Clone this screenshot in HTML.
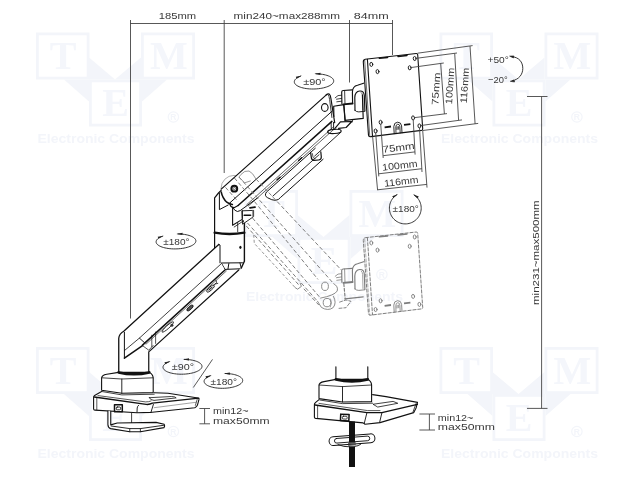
<!DOCTYPE html><html><head><meta charset="utf-8"><style>html,body{margin:0;padding:0;background:#fff}svg{display:block;will-change:transform}text{font-family:"Liberation Sans",sans-serif}text.sf{font-family:"Liberation Serif",serif}</style></head><body>
<svg width="640" height="480" viewBox="0 0 640 480">
<rect width="640" height="480" fill="#fff"/>
<g transform="translate(36,32.5)" fill="#f3f5fa" stroke="none">
<path d="M53 25 L79 47 L105 25 L105 47 L131 47 L106 69 L106 47 L53 47 L53 69 L28 47 L53 47 Z"/>
<rect x="0" y="0" width="53.5" height="47" fill="#f3f5fa"/>
<rect x="2.8" y="2.8" width="47.9" height="41.4" fill="#fff"/>
<rect x="105" y="0" width="54" height="47" fill="#f3f5fa"/>
<rect x="107.8" y="2.8" width="48.4" height="41.4" fill="#fff"/>
<rect x="53" y="47" width="53" height="47" fill="#f3f5fa"/>
<rect x="55.8" y="49.8" width="47.4" height="41.4" fill="#fff"/>
<text x="27" y="36.6" class="sf" font-size="40" font-weight="bold" text-anchor="middle" fill="#f4f6fb">T</text>
<text x="133" y="36.6" class="sf" font-size="40" font-weight="bold" text-anchor="middle" fill="#f4f6fb">M</text>
<text x="79.5" y="83.8" class="sf" font-size="40" font-weight="bold" text-anchor="middle" fill="#f4f6fb">E</text>
<circle cx="137.4" cy="84.5" r="5.2" fill="none" stroke="#f3f5fa" stroke-width="1.2"/>
<text x="137.4" y="87.6" font-size="8.5" font-weight="bold" text-anchor="middle" fill="#f3f5fa">R</text>
<text x="1.5" y="110.6" font-size="12" font-weight="bold" textLength="157" lengthAdjust="spacingAndGlyphs" fill="#f3f5fa">Electronic Components</text>
</g>
<g transform="translate(439.5,32.5)" fill="#f3f5fa" stroke="none">
<path d="M53 25 L79 47 L105 25 L105 47 L131 47 L106 69 L106 47 L53 47 L53 69 L28 47 L53 47 Z"/>
<rect x="0" y="0" width="53.5" height="47" fill="#f3f5fa"/>
<rect x="2.8" y="2.8" width="47.9" height="41.4" fill="#fff"/>
<rect x="105" y="0" width="54" height="47" fill="#f3f5fa"/>
<rect x="107.8" y="2.8" width="48.4" height="41.4" fill="#fff"/>
<rect x="53" y="47" width="53" height="47" fill="#f3f5fa"/>
<rect x="55.8" y="49.8" width="47.4" height="41.4" fill="#fff"/>
<text x="27" y="36.6" class="sf" font-size="40" font-weight="bold" text-anchor="middle" fill="#f4f6fb">T</text>
<text x="133" y="36.6" class="sf" font-size="40" font-weight="bold" text-anchor="middle" fill="#f4f6fb">M</text>
<text x="79.5" y="83.8" class="sf" font-size="40" font-weight="bold" text-anchor="middle" fill="#f4f6fb">E</text>
<circle cx="137.4" cy="84.5" r="5.2" fill="none" stroke="#f3f5fa" stroke-width="1.2"/>
<text x="137.4" y="87.6" font-size="8.5" font-weight="bold" text-anchor="middle" fill="#f3f5fa">R</text>
<text x="1.5" y="110.6" font-size="12" font-weight="bold" textLength="157" lengthAdjust="spacingAndGlyphs" fill="#f3f5fa">Electronic Components</text>
</g>
<g transform="translate(36,347)" fill="#f3f5fa" stroke="none">
<path d="M53 25 L79 47 L105 25 L105 47 L131 47 L106 69 L106 47 L53 47 L53 69 L28 47 L53 47 Z"/>
<rect x="0" y="0" width="53.5" height="47" fill="#f3f5fa"/>
<rect x="2.8" y="2.8" width="47.9" height="41.4" fill="#fff"/>
<rect x="105" y="0" width="54" height="47" fill="#f3f5fa"/>
<rect x="107.8" y="2.8" width="48.4" height="41.4" fill="#fff"/>
<rect x="53" y="47" width="53" height="47" fill="#f3f5fa"/>
<rect x="55.8" y="49.8" width="47.4" height="41.4" fill="#fff"/>
<text x="27" y="36.6" class="sf" font-size="40" font-weight="bold" text-anchor="middle" fill="#f4f6fb">T</text>
<text x="133" y="36.6" class="sf" font-size="40" font-weight="bold" text-anchor="middle" fill="#f4f6fb">M</text>
<text x="79.5" y="83.8" class="sf" font-size="40" font-weight="bold" text-anchor="middle" fill="#f4f6fb">E</text>
<circle cx="137.4" cy="84.5" r="5.2" fill="none" stroke="#f3f5fa" stroke-width="1.2"/>
<text x="137.4" y="87.6" font-size="8.5" font-weight="bold" text-anchor="middle" fill="#f3f5fa">R</text>
<text x="1.5" y="110.6" font-size="12" font-weight="bold" textLength="157" lengthAdjust="spacingAndGlyphs" fill="#f3f5fa">Electronic Components</text>
</g>
<g transform="translate(439.5,347)" fill="#f3f5fa" stroke="none">
<path d="M53 25 L79 47 L105 25 L105 47 L131 47 L106 69 L106 47 L53 47 L53 69 L28 47 L53 47 Z"/>
<rect x="0" y="0" width="53.5" height="47" fill="#f3f5fa"/>
<rect x="2.8" y="2.8" width="47.9" height="41.4" fill="#fff"/>
<rect x="105" y="0" width="54" height="47" fill="#f3f5fa"/>
<rect x="107.8" y="2.8" width="48.4" height="41.4" fill="#fff"/>
<rect x="53" y="47" width="53" height="47" fill="#f3f5fa"/>
<rect x="55.8" y="49.8" width="47.4" height="41.4" fill="#fff"/>
<text x="27" y="36.6" class="sf" font-size="40" font-weight="bold" text-anchor="middle" fill="#f4f6fb">T</text>
<text x="133" y="36.6" class="sf" font-size="40" font-weight="bold" text-anchor="middle" fill="#f4f6fb">M</text>
<text x="79.5" y="83.8" class="sf" font-size="40" font-weight="bold" text-anchor="middle" fill="#f4f6fb">E</text>
<circle cx="137.4" cy="84.5" r="5.2" fill="none" stroke="#f3f5fa" stroke-width="1.2"/>
<text x="137.4" y="87.6" font-size="8.5" font-weight="bold" text-anchor="middle" fill="#f3f5fa">R</text>
<text x="1.5" y="110.6" font-size="12" font-weight="bold" textLength="157" lengthAdjust="spacingAndGlyphs" fill="#f3f5fa">Electronic Components</text>
</g>
<g transform="translate(244.5,190)" fill="#f3f5fa" stroke="none">
<path d="M53 25 L79 47 L105 25 L105 47 L131 47 L106 69 L106 47 L53 47 L53 69 L28 47 L53 47 Z"/>
<rect x="0" y="0" width="53.5" height="47" fill="#f3f5fa"/>
<rect x="2.8" y="2.8" width="47.9" height="41.4" fill="#fff"/>
<rect x="105" y="0" width="54" height="47" fill="#f3f5fa"/>
<rect x="107.8" y="2.8" width="48.4" height="41.4" fill="#fff"/>
<rect x="53" y="47" width="53" height="47" fill="#f3f5fa"/>
<rect x="55.8" y="49.8" width="47.4" height="41.4" fill="#fff"/>
<text x="27" y="36.6" class="sf" font-size="40" font-weight="bold" text-anchor="middle" fill="#f4f6fb">T</text>
<text x="133" y="36.6" class="sf" font-size="40" font-weight="bold" text-anchor="middle" fill="#f4f6fb">M</text>
<text x="79.5" y="83.8" class="sf" font-size="40" font-weight="bold" text-anchor="middle" fill="#f4f6fb">E</text>
<circle cx="137.4" cy="84.5" r="5.2" fill="none" stroke="#f3f5fa" stroke-width="1.2"/>
<text x="137.4" y="87.6" font-size="8.5" font-weight="bold" text-anchor="middle" fill="#f3f5fa">R</text>
<text x="1.5" y="110.6" font-size="12" font-weight="bold" textLength="157" lengthAdjust="spacingAndGlyphs" fill="#f3f5fa">Electronic Components</text>
</g>
<g stroke="#454545" stroke-width="0.9" fill="none">
<path d="M130 23.5 H393"/>
<path d="M130.5 20 V318.5"/>
<path d="M224.2 20 V173"/>
<path d="M349.5 20 V82.5"/>
<path d="M392.5 20 V55"/>
<path d="M541.6 96.5 V408.4 M527 96.5 H547.5 M527 408.4 H547.5"/>
<path d="M199.4 408.5 H210 M199.4 423.8 H210 M204.6 408.5 V423.8"/>
<path d="M419.4 414 H435 M419.4 430 H435 M429.4 414 V430"/>
</g>
<text x="158.8" y="19.4" font-size="9.5" fill="#383838" text-anchor="start" textLength="37.4" lengthAdjust="spacingAndGlyphs" >185mm</text>
<text x="233.6" y="19.4" font-size="9.5" fill="#383838" text-anchor="start" textLength="106.5" lengthAdjust="spacingAndGlyphs" >min240~max288mm</text>
<text x="353.8" y="19.4" font-size="9.5" fill="#383838" text-anchor="start" textLength="35" lengthAdjust="spacingAndGlyphs" >84mm</text>
<text x="539" y="305" font-size="9.5" fill="#383838" text-anchor="start" textLength="104.7" lengthAdjust="spacingAndGlyphs" transform="rotate(-90 539 305)" >min231~max500mm</text>
<text x="213" y="414.4" font-size="9.5" fill="#383838" text-anchor="start" textLength="35.6" lengthAdjust="spacingAndGlyphs" >min12~</text>
<text x="213" y="424.4" font-size="9.5" fill="#383838" text-anchor="start" textLength="56.6" lengthAdjust="spacingAndGlyphs" >max50mm</text>
<text x="437.8" y="420.6" font-size="9.5" fill="#383838" text-anchor="start" textLength="35.6" lengthAdjust="spacingAndGlyphs" >min12~</text>
<text x="437.8" y="430.2" font-size="9.5" fill="#383838" text-anchor="start" textLength="57.2" lengthAdjust="spacingAndGlyphs" >max50mm</text>
<g transform="translate(0,178.5)" fill="none" stroke="#7e7e7e" stroke-linecap="round" stroke-linejoin="round">
<path d="M365.2 59.2 L416.2 53.5 Q417.6 53.4 417.7 54.8 L422.7 128.9 Q422.8 130.2 421.5 130.4 L371 136.6 L370.2 136.7 Q368.7 136.8 368.5 135.2 L363.3 62 Q363.2 59.6 365.2 59.2 Z" stroke-width="1.0" fill="none" stroke-dasharray="3.2 1.8"/>
<path d="M367.4 59.3 L372.5 136.3" stroke-width="1.0" stroke-dasharray="3.2 1.8"/>
<path d="M364.7 60.4 L369.8 136.5" stroke-width="0.6" stroke-dasharray="3.2 1.8"/>
<ellipse cx="371.3" cy="64.4" rx="1.45" ry="2.05" stroke-width="0.9" transform="rotate(-5 371.3 64.4)"/>
<ellipse cx="377.5" cy="71.6" rx="1.45" ry="2.05" stroke-width="0.9" transform="rotate(-5 377.5 71.6)"/>
<ellipse cx="414.7" cy="58.5" rx="1.45" ry="2.05" stroke-width="0.9" transform="rotate(-5 414.7 58.5)"/>
<ellipse cx="409.7" cy="67.8" rx="1.45" ry="2.05" stroke-width="0.9" transform="rotate(-5 409.7 67.8)"/>
<ellipse cx="375.6" cy="131" rx="1.45" ry="2.05" stroke-width="0.9" transform="rotate(-5 375.6 131)"/>
<ellipse cx="380.6" cy="122.3" rx="1.45" ry="2.05" stroke-width="0.9" transform="rotate(-5 380.6 122.3)"/>
<ellipse cx="413.1" cy="117.9" rx="1.45" ry="2.05" stroke-width="0.9" transform="rotate(-5 413.1 117.9)"/>
<ellipse cx="419.4" cy="125.9" rx="1.45" ry="2.05" stroke-width="0.9" transform="rotate(-5 419.4 125.9)"/>
<path d="M379.4 58.3 L387.6 57.4 M398 56.4 L407 55.4" stroke-width="1.5"/>
<path d="M384.6 127.3 L391 126.5 M404 124.9 L410.4 124.1" stroke-width="1.8" stroke-linecap="butt"/>
<path d="M394.2 133.7 L393.8 126.6 Q393.9 122.4 397.6 122.2 Q401.2 122.1 401.6 126 L402 132.8" stroke-width="0.9"/>
<path d="M396 133.4 L395.8 127 Q396 124.3 397.8 124.2 Q399.6 124.2 399.9 126.6 L400.2 133" stroke-width="0.8"/>
<path d="M397 129.5 L397.1 126.8 M398.8 129.3 L398.7 126.6" stroke-width="0.9"/>
</g>
<g transform="translate(0,0)" fill="none" stroke="#111" stroke-linecap="round" stroke-linejoin="round">
<path d="M365.2 59.2 L416.2 53.5 Q417.6 53.4 417.7 54.8 L422.7 128.9 Q422.8 130.2 421.5 130.4 L371 136.6 L370.2 136.7 Q368.7 136.8 368.5 135.2 L363.3 62 Q363.2 59.6 365.2 59.2 Z" stroke-width="1.1" fill="#fff"/>
<path d="M367.4 59.3 L372.5 136.3" stroke-width="1.1"/>
<path d="M364.7 60.4 L369.8 136.5" stroke-width="0.6"/>
<ellipse cx="371.3" cy="64.4" rx="1.45" ry="2.05" stroke-width="0.9" transform="rotate(-5 371.3 64.4)"/>
<ellipse cx="377.5" cy="71.6" rx="1.45" ry="2.05" stroke-width="0.9" transform="rotate(-5 377.5 71.6)"/>
<ellipse cx="414.7" cy="58.5" rx="1.45" ry="2.05" stroke-width="0.9" transform="rotate(-5 414.7 58.5)"/>
<ellipse cx="409.7" cy="67.8" rx="1.45" ry="2.05" stroke-width="0.9" transform="rotate(-5 409.7 67.8)"/>
<ellipse cx="375.6" cy="131" rx="1.45" ry="2.05" stroke-width="0.9" transform="rotate(-5 375.6 131)"/>
<ellipse cx="380.6" cy="122.3" rx="1.45" ry="2.05" stroke-width="0.9" transform="rotate(-5 380.6 122.3)"/>
<ellipse cx="413.1" cy="117.9" rx="1.45" ry="2.05" stroke-width="0.9" transform="rotate(-5 413.1 117.9)"/>
<ellipse cx="419.4" cy="125.9" rx="1.45" ry="2.05" stroke-width="0.9" transform="rotate(-5 419.4 125.9)"/>
<path d="M379.4 58.3 L387.6 57.4 M398 56.4 L407 55.4" stroke-width="1.5"/>
<path d="M384.6 127.3 L391 126.5 M404 124.9 L410.4 124.1" stroke-width="1.8" stroke-linecap="butt"/>
<path d="M394.2 133.7 L393.8 126.6 Q393.9 122.4 397.6 122.2 Q401.2 122.1 401.6 126 L402 132.8" stroke-width="0.9"/>
<path d="M396 133.4 L395.8 127 Q396 124.3 397.8 124.2 Q399.6 124.2 399.9 126.6 L400.2 133" stroke-width="0.8"/>
<path d="M397 129.5 L397.1 126.8 M398.8 129.3 L398.7 126.6" stroke-width="0.9"/>
</g>
<g stroke="#454545" stroke-width="0.9" fill="none">
<path d="M417.6 53.2 L472.6 45.6 M470 46 L475.1 124 M422.8 130.5 L478.2 123.4"/>
<path d="M415.6 58.4 L457 53 M454.7 53.4 L458.6 120.3 M420.3 125.6 L462 119.9"/>
<path d="M410.6 67.6 L443.8 63 M440.7 63.6 L444.4 114 M414 117.7 L447 113.6"/>
<path d="M380.7 123.8 L383.2 158 M413.2 119.4 L415.1 154.6 M383.1 155.7 L415 151.9"/>
<path d="M375.7 132.6 L378.8 176.4 M419.5 127.5 L422 172 M378.7 173.8 L421.9 168.7"/>
<path d="M372.6 136.6 L377.6 190.2 M422.7 130.4 L427 187.6 M377.5 189.8 L426.9 184.4"/>
</g>
<text x="439.3" y="89" font-size="9.6" fill="#383838" text-anchor="middle" textLength="32.5" lengthAdjust="spacingAndGlyphs" transform="rotate(-86 439.3 89)">75mm</text>
<text x="453.2" y="86.2" font-size="9.6" fill="#383838" text-anchor="middle" textLength="36.5" lengthAdjust="spacingAndGlyphs" transform="rotate(-86 453.2 86.2)">100mm</text>
<text x="468" y="85.7" font-size="9.6" fill="#383838" text-anchor="middle" textLength="35.5" lengthAdjust="spacingAndGlyphs" transform="rotate(-86 468 85.7)">116mm</text>
<text x="399" y="150.8" font-size="9.6" fill="#383838" text-anchor="middle" textLength="32" lengthAdjust="spacingAndGlyphs" transform="rotate(-6.7 399 150.8)">75mm</text>
<text x="400.2" y="168.7" font-size="9.6" fill="#383838" text-anchor="middle" textLength="35.6" lengthAdjust="spacingAndGlyphs" transform="rotate(-6.7 400.2 168.7)">100mm</text>
<text x="401.6" y="184.8" font-size="9.6" fill="#383838" text-anchor="middle" textLength="34.4" lengthAdjust="spacingAndGlyphs" transform="rotate(-6.7 401.6 184.8)">116mm</text>
<g transform="rotate(-1.5 314 81.4)">
<path d="M315.72 73.83 L317.50 73.92 L319.25 74.08 L320.96 74.29 L322.62 74.57 L324.20 74.90 L325.69 75.28 L327.09 75.72 L328.38 76.20 L329.54 76.73 L330.58 77.30 L331.48 77.90 L332.24 78.53 L332.84 79.18 L333.29 79.85 L333.57 80.54 L333.70 81.23 L333.65 81.93 L333.45 82.62 L333.08 83.29 L332.55 83.96 L331.87 84.60 L331.04 85.22 L330.06 85.80 L328.96 86.35 L327.73 86.85 L326.38 87.31 L324.93 87.72 L323.39 88.08 L321.77 88.38 L320.09 88.63 L318.35 88.81 L316.58 88.93 L314.79 88.99 L312.99 88.99 L311.20 88.92 L309.43 88.79 L307.71 88.60 L306.03 88.35 L304.42 88.04 L302.89 87.68 L301.45 87.26 L300.12 86.79 L298.90 86.28 L297.81 85.73 L296.85 85.14 L296.04 84.52 L295.38 83.88 L294.87 83.21 L294.52 82.53 L294.33 81.84 L294.31 81.15 L294.45 80.46 L294.76 79.77 L295.22 79.10 L295.84 78.45 L296.62 77.82 L297.53 77.23 L298.59 76.67 L299.77 76.14 L301.08 75.66" fill="none" stroke="#222" stroke-width="0.9"/>
<path d="M314.52 73.79 L320.75 72.85 L320.68 75.15 Z" fill="#222"/>
<path d="M302.21 75.28 L296.70 78.34 L295.97 76.16 Z" fill="#222"/>
</g>
<text x="314.4" y="85.0" font-size="9.7" fill="#383838" text-anchor="middle" textLength="22.5" lengthAdjust="spacingAndGlyphs">±90°</text>
<g transform="rotate(-1.5 176 241.4)">
<path d="M177.73 233.93 L179.54 234.02 L181.31 234.17 L183.03 234.38 L184.70 234.66 L186.30 234.98 L187.81 235.36 L189.22 235.79 L190.52 236.27 L191.70 236.79 L192.75 237.35 L193.66 237.94 L194.42 238.57 L195.03 239.21 L195.48 239.87 L195.77 240.55 L195.90 241.23 L195.85 241.92 L195.64 242.60 L195.27 243.27 L194.74 243.92 L194.05 244.56 L193.21 245.17 L192.23 245.74 L191.11 246.28 L189.87 246.78 L188.51 247.23 L187.04 247.64 L185.49 247.99 L183.85 248.29 L182.15 248.53 L180.40 248.71 L178.61 248.84 L176.80 248.89 L174.98 248.89 L173.17 248.82 L171.39 248.70 L169.64 248.51 L167.95 248.26 L166.32 247.95 L164.78 247.59 L163.32 247.18 L161.98 246.72 L160.75 246.22 L159.65 245.67 L158.68 245.09 L157.86 244.48 L157.19 243.85 L156.67 243.19 L156.32 242.52 L156.13 241.84 L156.11 241.15 L156.25 240.47 L156.56 239.79 L157.03 239.13 L157.66 238.49 L158.44 237.87 L159.37 237.28 L160.43 236.73 L161.63 236.21 L162.94 235.74" fill="none" stroke="#222" stroke-width="0.9"/>
<path d="M176.54 233.89 L182.77 232.94 L182.69 235.24 Z" fill="#222"/>
<path d="M164.08 235.37 L158.55 238.39 L157.83 236.20 Z" fill="#222"/>
</g>
<text x="176.4" y="245.0" font-size="9.7" fill="#383838" text-anchor="middle" textLength="26.3" lengthAdjust="spacingAndGlyphs">±180°</text>
<g transform="rotate(-1.5 182.5 366.8)">
<path d="M184.20 359.43 L185.96 359.52 L187.70 359.67 L189.39 359.88 L191.03 360.15 L192.59 360.47 L194.07 360.84 L195.46 361.27 L196.73 361.74 L197.89 362.25 L198.92 362.81 L199.81 363.39 L200.55 364.00 L201.15 364.64 L201.59 365.30 L201.87 365.96 L202.00 366.64 L201.95 367.31 L201.75 367.98 L201.38 368.64 L200.86 369.29 L200.19 369.92 L199.36 370.51 L198.40 371.08 L197.31 371.62 L196.09 372.11 L194.75 372.56 L193.32 372.96 L191.79 373.31 L190.19 373.60 L188.53 373.84 L186.81 374.02 L185.06 374.14 L183.28 374.19 L181.50 374.19 L179.73 374.12 L177.98 374.00 L176.27 373.81 L174.61 373.57 L173.02 373.27 L171.50 372.91 L170.08 372.50 L168.76 372.05 L167.55 371.55 L166.47 371.02 L165.53 370.44 L164.72 369.84 L164.07 369.21 L163.56 368.57 L163.22 367.90 L163.03 367.23 L163.01 366.55 L163.15 365.88 L163.45 365.22 L163.91 364.56 L164.53 363.93 L165.29 363.32 L166.20 362.74 L167.25 362.19 L168.42 361.68 L169.71 361.22" fill="none" stroke="#222" stroke-width="0.9"/>
<path d="M183.00 359.39 L189.23 358.44 L189.16 360.74 Z" fill="#222"/>
<path d="M170.85 360.84 L165.32 363.87 L164.60 361.69 Z" fill="#222"/>
</g>
<text x="182.9" y="370.40000000000003" font-size="9.7" fill="#383838" text-anchor="middle" textLength="22.2" lengthAdjust="spacingAndGlyphs">±90°</text>
<g transform="rotate(-1.5 223.4 380.9)">
<path d="M225.08 373.53 L226.83 373.62 L228.55 373.77 L230.22 373.98 L231.84 374.25 L233.39 374.57 L234.85 374.94 L236.22 375.37 L237.48 375.84 L238.63 376.35 L239.65 376.91 L240.53 377.49 L241.27 378.10 L241.86 378.74 L242.30 379.40 L242.58 380.06 L242.70 380.74 L242.65 381.41 L242.45 382.08 L242.09 382.74 L241.57 383.39 L240.91 384.02 L240.09 384.61 L239.14 385.18 L238.05 385.72 L236.85 386.21 L235.53 386.66 L234.11 387.06 L232.60 387.41 L231.01 387.70 L229.36 387.94 L227.66 388.12 L225.93 388.24 L224.17 388.29 L222.41 388.29 L220.66 388.22 L218.93 388.10 L217.23 387.91 L215.59 387.67 L214.01 387.37 L212.51 387.01 L211.11 386.60 L209.80 386.15 L208.61 385.65 L207.54 385.12 L206.60 384.54 L205.81 383.94 L205.16 383.31 L204.66 382.67 L204.32 382.00 L204.13 381.33 L204.11 380.65 L204.25 379.98 L204.55 379.32 L205.00 378.66 L205.61 378.03 L206.37 377.42 L207.27 376.84 L208.30 376.29 L209.46 375.78 L210.74 375.32" fill="none" stroke="#222" stroke-width="0.9"/>
<path d="M223.88 373.49 L230.12 372.55 L230.04 374.85 Z" fill="#222"/>
<path d="M211.88 374.94 L206.36 377.99 L205.63 375.81 Z" fill="#222"/>
</g>
<text x="223.8" y="384.5" font-size="9.7" fill="#383838" text-anchor="middle" textLength="26.5" lengthAdjust="spacingAndGlyphs">±180°</text>
<g transform="rotate(0 405.3 208.1)">
<path d="M413.96 194.85 L415.07 195.64 L416.12 196.52 L417.08 197.49 L417.95 198.53 L418.73 199.65 L419.42 200.83 L419.99 202.06 L420.46 203.34 L420.82 204.65 L421.06 205.99 L421.18 207.35 L421.19 208.71 L421.08 210.06 L420.85 211.40 L420.51 212.72 L420.05 214.00 L419.48 215.24 L418.81 216.43 L418.04 217.55 L417.18 218.60 L416.22 219.58 L415.19 220.47 L414.08 221.27 L412.91 221.97 L411.68 222.57 L410.41 223.06 L409.09 223.44 L407.75 223.71 L406.39 223.86 L405.02 223.90 L403.66 223.82 L402.30 223.62 L400.97 223.30 L399.67 222.88 L398.41 222.34 L397.21 221.70 L396.06 220.96 L394.98 220.12 L393.98 219.19 L393.06 218.19 L392.23 217.10 L391.50 215.95 L390.87 214.74 L390.35 213.49 L389.94 212.19 L389.64 210.86 L389.46 209.51 L389.40 208.16 L389.45 206.80 L389.63 205.45 L389.91 204.12 L390.32 202.82 L390.83 201.56 L391.45 200.34 L392.17 199.19 L392.99 198.10 L393.90 197.08 L394.90 196.15 L395.97 195.31 L397.11 194.56" fill="none" stroke="#222" stroke-width="0.9"/>
<path d="M412.95 194.20 L418.78 196.59 L417.54 198.53 Z" fill="#222"/>
<path d="M398.14 193.94 L393.41 198.11 L392.23 196.13 Z" fill="#222"/>
</g>
<text x="405.7" y="211.7" font-size="9.7" fill="#383838" text-anchor="middle" textLength="26.2" lengthAdjust="spacingAndGlyphs">±180°</text>
<path d="M212.5 359.4 L193.3 387.5" stroke="#454545" stroke-width="0.9"/>
<text x="487.5" y="62.5" font-size="9.5" fill="#383838" text-anchor="start" textLength="21.3" lengthAdjust="spacingAndGlyphs" >+50°</text>
<text x="488.1" y="82.5" font-size="9.5" fill="#383838" text-anchor="start" textLength="19.6" lengthAdjust="spacingAndGlyphs" >−20°</text>
<path d="M511.5 56.6 C519 57.2 522.8 62 522.8 68.4 C522.8 74.8 518.5 79.6 512.3 80.7" fill="none" stroke="#222" stroke-width="0.9"/>
<path d="M509.6 56.1 L513.8 55.9 L513.5 58 Z M510.3 81.3 L514 80 L514.6 82 Z" fill="#222" stroke="#222" stroke-width="0.6"/>
<g transform="translate(0,178.5)" fill="none" stroke="#7c7c7c" stroke-linecap="round" stroke-linejoin="round">
<path d="M345 120.4 L363.2 118.4" stroke-width="1.15"/>
<path d="M343.8 105 L345.2 120.6" stroke-width="1.15" stroke-dasharray="3 1.8"/>
<path d="M339.6 123.6 L346 121.5 L351 122.8 L346 129.2 L337.6 130" stroke-width="0.9" stroke-dasharray="3 1.8"/>
<path d="M343.4 104.3 L352.6 103.5" stroke-width="1.8"/>
<path d="M341.9 103.8 L341.7 92 Q341.8 90.6 343.2 90.5 L352.4 89.9" stroke-width="1.15"/>
<path d="M344.6 90.5 L345 103.8" stroke-width="0.8"/>
<path d="M336.5 99.2 L341.6 98.4 M336.8 101.8 L341.7 101.2 M335.2 97.8 L338 95.6 L341.6 95.2" stroke-width="0.8"/>
<path d="M352.6 103.2 L352.4 92 Q352.6 86.2 357.5 85.2 L363.6 83.2" stroke-width="1.15"/>
<path d="M355 110.4 L354.8 97.5 Q355 91.4 359.8 91 Q364 90.8 364.3 95.6 L364.9 111" stroke-width="1.15"/>
<path d="M361.3 92.6 Q362.5 93.4 362.6 96 L363 110" stroke-width="0.7"/>
<path d="M355 110.4 Q356.4 112 358.8 111.9 L364.6 111.3" stroke-width="0.9"/>
</g>
<g transform="translate(0,0)" fill="none" stroke="#111" stroke-linecap="round" stroke-linejoin="round">
<path d="M333.7 106.3 L343.8 104.6 L345 120.4 L363.2 118.4 L362.4 95 M333.7 106.3 L333.9 116.5" stroke-width="1.15" fill="#fff"/>
<path d="M343.8 104.6 L345.2 120.6" stroke-width="1.15"/>
<path d="M343.4 104.3 L352.6 103.5" stroke-width="1.8"/>
<path d="M341.9 103.8 L341.7 92 Q341.8 90.6 343.2 90.5 L352.4 89.9" stroke-width="1.15"/>
<path d="M344.6 90.5 L345 103.8" stroke-width="0.8"/>
<path d="M336.5 99.2 L341.6 98.4 M336.8 101.8 L341.7 101.2 M335.2 97.8 L338 95.6 L341.6 95.2" stroke-width="0.8"/>
<path d="M352.6 103.2 L352.4 92 Q352.6 86.2 357.5 85.2 L363.6 83.2" stroke-width="1.15"/>
<path d="M355 110.4 L354.8 97.5 Q355 91.4 359.8 91 Q364 90.8 364.3 95.6 L364.9 111" stroke-width="1.15"/>
<path d="M361.3 92.6 Q362.5 93.4 362.6 96 L363 110" stroke-width="0.7"/>
<path d="M355 110.4 Q356.4 112 358.8 111.9 L364.6 111.3" stroke-width="0.9"/>
<path d="M335.2 128.2 L340.4 121.9 L351.8 121.5 L346.1 127.5 L338.6 128.4" stroke-width="1.15"/>
<path d="M352.3 122 L352.6 120" stroke-width="0.8"/>
<path d="M331.1 122 L331.3 130 M333.5 122.4 L333.7 129.6" stroke-width="0.9"/>
<ellipse cx="334.4" cy="131.4" rx="6.8" ry="2.1" stroke-width="1.15" fill="#fff" transform="rotate(-4 334.4 131.4)"/>
</g>
<circle cx="234" cy="188.3" r="12.9" fill="none" stroke="#9a9a9a" stroke-width="0.8"/>
<path d="M214.6 198 L218.5 193 L221.1 190.4 L236 205 L244.4 221.9 L244.4 261.3 L241.3 268 L225 269.4 L221.3 263 L220 245 L214.6 248.3 Z" stroke="none" stroke-width="0" fill="#fff" stroke-linecap="round" stroke-linejoin="round" />
<path d="M221.1 190.4 L218.5 193 L214.6 197.8 L214.6 248.3" stroke="#111" stroke-width="1.2" fill="none" stroke-linecap="round" stroke-linejoin="round" />
<path d="M219.4 193.2 L219.4 209.6 L228.2 205" stroke="#111" stroke-width="1.0" fill="none" stroke-linecap="round" stroke-linejoin="round" />
<path d="M244.4 221.9 L244.4 261.3 L241.3 268" stroke="#111" stroke-width="1.4" fill="none" stroke-linecap="round" stroke-linejoin="round" />
<path d="M214.6 232.6 Q229.5 235.4 244.4 232.6" stroke="#111" stroke-width="2.3" fill="none" stroke-linecap="round" stroke-linejoin="round" />
<path d="M237.7 222.8 L237.7 231.8" stroke="#111" stroke-width="0.8" fill="none" stroke-linecap="round" stroke-linejoin="round" />
<path d="M232.6 207 L232.6 225.2 L241.8 219.6" stroke="#111" stroke-width="1.1" fill="none" stroke-linecap="round" stroke-linejoin="round" />
<path d="M234.2 227 L243 221.2" stroke="#111" stroke-width="0.8" fill="none" stroke-linecap="round" stroke-linejoin="round" />
<path d="M242.3 210.8 L253.6 210.4 L253.6 216.6 L242.9 224 Z" stroke="#111" stroke-width="0.9" fill="#fff" stroke-linecap="round" stroke-linejoin="round" />
<path d="M242.3 210.8 L242.3 218.4" stroke="#111" stroke-width="1.0" fill="none" stroke-linecap="round" stroke-linejoin="round" />
<path d="M244.2 215.3 L250.6 215.3" stroke="#111" stroke-width="1.6" fill="none" stroke-linecap="round" stroke-linejoin="round" />
<path d="M252.6 211 L252.6 216.6" stroke="#999" stroke-width="1.2" fill="none" stroke-linecap="round" stroke-linejoin="round" />
<path d="M243.2 220.4 L243.5 222" stroke="#111" stroke-width="0.9" fill="none" stroke-linecap="round" stroke-linejoin="round" />
<path d="M221.3 263 L242.5 262.8 M225 269.4 L240 268.8 M221.3 263 L225 269.4 M228.8 263.6 L228 268.8 M240 263 L241.2 268" stroke="#111" stroke-width="1.0" fill="none" stroke-linecap="round" stroke-linejoin="round" />
<ellipse cx="240.4" cy="247.3" rx="1.1" ry="1.6" fill="#111"/>
<path d="M221.22 189.13 L326.33 94.85 L329 93.9 L333.8 117 L331.9 121.5 L238.10 205.55 L230.78 206.08 L230.04 202.71 Z" stroke="none" stroke-width="0" fill="#fff" stroke-linecap="round" stroke-linejoin="round" />
<path d="M221.22 189.13 L326.33 94.85" stroke="#111" stroke-width="1.2" fill="none" stroke-linecap="round" stroke-linejoin="round" />
<path d="M230.04 202.71 L331.95 111.30" stroke="#111" stroke-width="1.0" fill="none" stroke-linecap="round" stroke-linejoin="round" />
<path d="M238.10 205.55 L331.89 121.42" stroke="#111" stroke-width="1.5" fill="none" stroke-linecap="round" stroke-linejoin="round" />
<path d="M326.25 94.8 Q327.8 93.5 329.2 94 Q330.6 95 331 99 L332.9 111.3 L333.8 117 L334.7 122.6" stroke="#111" stroke-width="1.2" fill="none" stroke-linecap="round" stroke-linejoin="round" />
<path d="M327.9 94.4 Q329.3 96 329.6 99.5 L331.9 117.5" stroke="#111" stroke-width="0.8" fill="none" stroke-linecap="round" stroke-linejoin="round" />
<ellipse cx="324.79" cy="107.51" rx="3.3" ry="3.9" fill="#fff" stroke="#111" stroke-width="1.1"/>
<path d="M230.04 202.71 Q229.58 207.15 234.09 207.67 L238.10 205.55" stroke="#111" stroke-width="1.1" fill="none" stroke-linecap="round" stroke-linejoin="round" />
<path d="M258 197.6 L240.2 210.6 Q237.4 212.6 234.8 210.2 L233.2 208" stroke="#111" stroke-width="1.0" fill="none" stroke-linecap="round" stroke-linejoin="round" />
<path d="M250 207.8 L255 207.2" stroke="#111" stroke-width="1.8" fill="none" stroke-linecap="round" stroke-linejoin="round" />
<path d="M246.86 204.54 L333.59 126.76" stroke="#111" stroke-width="0.65" fill="none" stroke-linecap="round" stroke-linejoin="round" />
<path d="M248.27 206.11 L334.99 128.32" stroke="#111" stroke-width="0.65" fill="none" stroke-linecap="round" stroke-linejoin="round" />
<path d="M277.10 179.84 L280.07 177.17 M298.68 160.48 L301.66 157.81" stroke="#111" stroke-width="1.4" fill="none" stroke-linecap="round" stroke-linejoin="round" />
<path d="M315.28 148.28 L266.52 192.01 Q263.84 195.76 267.63 197.74 Q276.47 203.11 280.68 197.32 L323.11 159.26" stroke="#111" stroke-width="1.0" fill="#fff" stroke-linecap="round" stroke-linejoin="round" />
<path d="M272.88 196.11 L319.04 154.72" stroke="#111" stroke-width="0.9" fill="none" stroke-linecap="round" stroke-linejoin="round" />
<path d="M310.6 152.3 L311.3 157.4 Q311.6 160.4 314 160.3 L318.6 160 Q321.4 159.8 321.3 157 L320.8 151.8" stroke="#111" stroke-width="1.2" fill="none" stroke-linecap="round" stroke-linejoin="round" />
<path d="M312.4 153.6 L313 157 Q313.3 158.6 315 158.5" stroke="#111" stroke-width="0.7" fill="none" stroke-linecap="round" stroke-linejoin="round" />
<path d="M314.6 156.1 L340.4 132.6" stroke="#111" stroke-width="0.9" fill="none" stroke-linecap="round" stroke-linejoin="round" />
<path d="M221.2 192 Q222.6 198.4 226.8 202.2 Q229.4 204.2 232.4 204.6" stroke="#111" stroke-width="1.5" fill="none" stroke-linecap="round" stroke-linejoin="round" />
<circle cx="234.3" cy="188.7" r="2.9" fill="#fff" stroke="#111" stroke-width="2"/>
<circle cx="234.3" cy="188.6" r="1.1" fill="none" stroke="#111" stroke-width="0.6"/>
<path d="M218.75 244.4 L123.75 331.25 Q119 334 118.75 338 L118.75 372 L148.75 372 L148.75 350 L238.75 270 L225 270 L221.3 263.8 L220 245 Z" stroke="none" stroke-width="0" fill="#fff" stroke-linecap="round" stroke-linejoin="round" />
<path d="M218.75 244.4 L123.75 331.25 Q119.2 333.8 118.75 338.2 L118.75 372" stroke="#111" stroke-width="1.3" fill="none" stroke-linecap="round" stroke-linejoin="round" />
<path d="M218.75 244.4 L220 245 L220 262.8" stroke="#111" stroke-width="1.0" fill="none" stroke-linecap="round" stroke-linejoin="round" />
<path d="M221.25 263.75 L139.4 338.1 L124.4 350.6" stroke="#111" stroke-width="0.8" fill="none" stroke-linecap="round" stroke-linejoin="round" />
<path d="M124.4 332.4 L124.4 358.1" stroke="#111" stroke-width="1.0" fill="none" stroke-linecap="round" stroke-linejoin="round" />
<path d="M124.4 358.1 L142.5 345.6" stroke="#111" stroke-width="1.5" fill="none" stroke-linecap="round" stroke-linejoin="round" />
<path d="M139.4 338.1 L145 343.1" stroke="#111" stroke-width="0.9" fill="none" stroke-linecap="round" stroke-linejoin="round" />
<path d="M225 270 L142.5 345.1" stroke="#111" stroke-width="1.6" fill="none" stroke-linecap="round" stroke-linejoin="round" />
<path d="M238.75 270 L148.75 351.9 L148.75 372" stroke="#111" stroke-width="1.2" fill="none" stroke-linecap="round" stroke-linejoin="round" />
<path d="M142.5 345.6 L148.75 350.2 L153.2 345.4 M151.8 335.2 L151.8 346.6 M155.6 332 L155.6 343.4" stroke="#111" stroke-width="0.7" fill="none" stroke-linecap="round" stroke-linejoin="round" />
<ellipse cx="210.5" cy="288.6" rx="4.8" ry="1.6" transform="rotate(-42 210.5 288.6)" fill="none" stroke="#111" stroke-width="0.9"/>
<ellipse cx="210.5" cy="288.6" rx="3" ry="0.7" transform="rotate(-42 210.5 288.6)" fill="#333"/>
<path d="M213.6 285.4 L216.6 282.6 L216 280.4 M215 284 L217.8 283.4" stroke="#111" stroke-width="0.8" fill="none" stroke-linecap="round" stroke-linejoin="round" />
<ellipse cx="190" cy="308" rx="4" ry="1.6" transform="rotate(-42 190 308)" fill="#555" stroke="#111" stroke-width="0.8"/>
<ellipse cx="167.8" cy="327" rx="7.6" ry="1.5" transform="rotate(-42 167.8 327)" fill="none" stroke="#111" stroke-width="0.8"/>
<circle cx="171.9" cy="325.2" r="1.5" fill="#333"/>
<path d="M226.4 271 L146 344.2" stroke="#111" stroke-width="0.6" fill="none" stroke-linecap="round" stroke-linejoin="round" />
<g transform="translate(0,0)" fill="none" stroke="#111" stroke-linecap="round" stroke-linejoin="round">
<path d="M101.6 391.6 L94.6 395.4 Q93.4 396.2 93.6 397.4 L93.6 409 Q93.7 410 95 410.1 L137 412.7 L150.8 412.4 L152.2 412.3 L194.8 407.7 Q197 406.6 197.5 404.8 L199 399.4 Q199.2 398.2 198 398 L168 393.3 L154.2 392.8" fill="#fff" stroke-width="1.1"/>
<path d="M94.3 397 L146.2 404.4 Q149.8 404.7 152.4 403.2 L198.8 398.2" stroke-width="1.35"/>
<path d="M98 395.6 L145.6 401.9 Q148.6 402 151 401" stroke-width="0.7"/>
<path d="M96.8 397.6 L96.8 409.8" stroke-width="0.7"/>
<path d="M138.6 405.2 Q137.4 406 137.2 408 L137 412.4 M153.4 404.4 L151 412.2" stroke-width="0.9"/>
<path d="M154.1 407.7 L195.8 402.3" stroke-width="0.6" stroke="#666"/>
<path d="M197.2 399.2 L195.4 405.4" stroke-width="0.7"/>
<path d="M149.4 397.7 L171.6 396.5 Q175.6 396.6 176.2 397.9 L154 400.4 Q150 400.2 149.4 397.7 Z" stroke-width="0.8"/>
<path d="M101.6 378.2 Q101.8 375 106.8 374.2 L118.6 372.4 L149.3 372.4 Q153 374 153.2 378 L153.2 392.6 L121.8 393.3 L101.6 390.2 Z" fill="#fff" stroke-width="1.1"/>
<path d="M118.6 372.4 Q134 376 149.3 372.4" stroke-width="2.6"/>
<path d="M101.8 377.8 L121.8 379 L153 377.8" stroke-width="0.8"/>
<path d="M121.8 379 L121.8 393.3" stroke-width="0.9"/>
<path d="M102.4 391.6 L121.8 394.9 L154.2 394.2" stroke-width="0.8"/>
<rect x="114.5" y="404.8" width="7.8" height="7" stroke-width="1.5"/>
<rect x="116.3" y="407" width="4.3" height="2.8" rx="1" stroke-width="0.9"/>
</g>
<g fill="none" stroke="#111" stroke-linecap="round" stroke-linejoin="round">
<path d="M335.9 366.7 L335.9 379 M367.8 366.7 L367.8 379" stroke-width="1.1"/>
<path d="M319 399.6 L315.4 402.6 Q314.2 403.6 314.4 405 L314.4 417.2 Q314.5 418.2 315.8 418.4 L363.1 422.9 L365 424.2 L380 422.6 L413.7 412.6 Q416.6 408.6 417.5 402.4 L386 396.6 L372.6 394.6" fill="#fff" stroke-width="1.1"/>
<path d="M315.2 405 L366.9 412.6 L381.9 412.6 L417.4 404.3" stroke-width="1.35"/>
<path d="M319 403.4 L367.6 410.6 L380 410.6" stroke-width="0.7"/>
<path d="M317.6 405.6 L317.6 418.4" stroke-width="0.7"/>
<path d="M366.9 412.8 L364.2 423.6 M381.9 412.8 L379.6 422.4" stroke-width="0.9"/>
<path d="M416 403.6 L413 412" stroke-width="0.8"/>
<path d="M373.4 404.2 L393.1 401.4 L397.8 403.3 L378.1 407 Z" stroke-width="0.8"/>
<path d="M319 385.4 Q319.2 382.4 324 381.6 L335.9 379.4 L367.8 379.4 Q371.4 381 371.6 385 L371.6 401.6 L342.5 402 L319 398.6 Z" fill="#fff" stroke-width="1.1"/>
<path d="M335.9 379.4 Q352 383.4 367.8 379.4" stroke-width="2.8"/>
<path d="M319.2 385 L342.5 386.6 L371.4 385" stroke-width="0.8"/>
<path d="M342.5 386.6 L342.5 402" stroke-width="0.9"/>
<path d="M319.8 400 L342.5 403.6 L372.6 403.2" stroke-width="0.8"/>
<rect x="340.6" y="414.3" width="8.4" height="6.4" stroke-width="1.5" transform="rotate(3 344 417)"/>
<rect x="342.4" y="416.2" width="4.8" height="2.8" rx="1" stroke-width="0.8" transform="rotate(3 344 417)"/>
<rect x="329" y="435.3" width="46" height="8.8" rx="4.4" stroke-width="1.0" fill="none" transform="rotate(-4.4 352 439.7)"/>
<rect x="334.4" y="437.3" width="35.4" height="4.6" rx="2.3" stroke-width="0.9" fill="none" transform="rotate(-4.4 352 439.7)"/>
<path d="M338 444.6 Q344 447.2 349.4 446.8 M355 446.4 Q358.4 446 360.6 444.4" stroke-width="0.9"/>
<path d="M352 421.6 L352 442.6 M352 446.2 L352 467" stroke-width="6" stroke-linecap="butt"/>
<path d="M348.6 443.4 L355.4 442.9 M348.6 445.3 L355.4 444.8" stroke-width="0.8"/>
</g>
<path d="M107.9 411 L107.9 424.6 Q108 427.8 110.6 428.6 L129.75 431.75 L140.4 431.75 L164 427.6 Q165.2 426 164.2 424.3 L156 422.4 L117.25 423 L110.75 424.9 L110.75 411.2" stroke="#111" stroke-width="1.1" fill="#fff" stroke-linecap="round" stroke-linejoin="round" />
<path d="M111.2 426 L129.75 428.6 L140.4 428.6 L163.6 425.3" stroke="#111" stroke-width="0.9" fill="none" stroke-linecap="round" stroke-linejoin="round" />
<path d="M129.75 428.6 L129.75 431.75 M140.4 428.6 L140.4 431.75 M131.6 413.4 L131.6 422.6" stroke="#111" stroke-width="0.8" fill="none" stroke-linecap="round" stroke-linejoin="round" />
<path d="M256 179 L341.3 270" stroke="#7e7e7e" stroke-width="1.0" fill="none" stroke-dasharray="4 2.2" stroke-linecap="butt"/>
<path d="M239 177 L333.7 283.7" stroke="#7e7e7e" stroke-width="1.0" fill="none" stroke-dasharray="4 2.2" stroke-linecap="butt"/>
<path d="M234.4 178 L252.4 199 L318 279.4" stroke="#7e7e7e" stroke-width="1.0" fill="none" stroke-dasharray="4 2.2" stroke-linecap="butt"/>
<path d="M225.5 187.4 L238 201.4 M252.5 218 L320 297.6" stroke="#7e7e7e" stroke-width="1.0" fill="none" stroke-dasharray="4 2.2" stroke-linecap="butt"/>
<path d="M247.5 223 L317.5 301.2" stroke="#7e7e7e" stroke-width="1.0" fill="none" stroke-dasharray="4 2.2" stroke-linecap="butt"/>
<path d="M246.3 226 L300 286.3 M303.8 288.8 L318.8 305" stroke="#7e7e7e" stroke-width="1.0" fill="none" stroke-dasharray="4 2.2" stroke-linecap="butt"/>
<path d="M253.7 234.8 L254.3 243.4 L295 287.4" stroke="#7e7e7e" stroke-width="0.8" fill="none" stroke-dasharray="3 2" stroke-linecap="butt"/>
<path d="M295 287.5 L297.6 289.2 L301.4 286.4 L300.2 283.2" stroke="#7e7e7e" stroke-width="0.9" fill="none" stroke-linecap="round" stroke-linejoin="round"/>
<path d="M333.7 283.7 Q338.6 286.4 337.2 291 Q334.6 295.4 320.6 298.1" stroke="#7e7e7e" stroke-width="0.9" fill="none" stroke-linecap="round" stroke-linejoin="round"/>
<ellipse cx="325" cy="286.3" rx="3.4" ry="4.2" fill="none" stroke="#7e7e7e" stroke-width="0.9"/>
<path d="M333.4 296.4 Q337 302.6 333.2 307.6 Q328 311.4 321.4 307.4 L317.5 301.2" stroke="#7e7e7e" stroke-width="0.9" fill="none" stroke-linecap="round" stroke-linejoin="round"/>
<ellipse cx="327" cy="302.6" rx="3.8" ry="4.2" fill="none" stroke="#7e7e7e" stroke-width="0.9"/>
<path d="M330.6 299 Q332.6 303 330.4 307" stroke="#7e7e7e" stroke-width="0.7" fill="none" stroke-linecap="round" stroke-linejoin="round"/>
<path d="M256 179 Q252.6 172.4 249 171 Q244.6 170.2 241 174.4 L239 177" stroke="#7e7e7e" stroke-width="0.8" fill="none" stroke-linecap="round" stroke-linejoin="round"/>
<path d="M239.4 177.6 L244.7 182.8 L250.3 181" stroke="#7e7e7e" stroke-width="0.8" fill="none" stroke-linecap="round" stroke-linejoin="round"/>
</svg></body></html>
